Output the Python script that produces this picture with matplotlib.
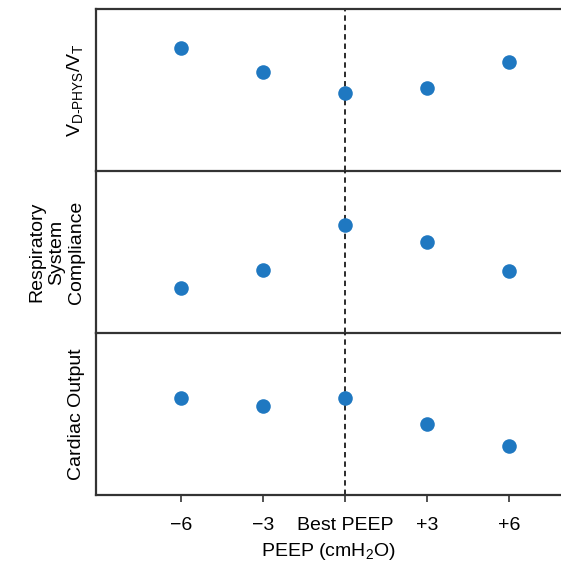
import matplotlib
matplotlib.use('Agg')
import matplotlib.pyplot as plt

plt.rcParams['font.family'] = ['Liberation Sans', 'DejaVu Sans']
plt.rcParams['mathtext.fontset'] = 'custom'
plt.rcParams['mathtext.rm'] = 'Liberation Sans'
plt.rcParams['mathtext.it'] = 'Liberation Sans'

# PEEP steps relative to best PEEP (cmH2O)
peep = [-6, -3, 0, 3, 6]
peep_labels = ['\u22126', '\u22123', 'Best PEEP', '+3', '+6']

# relative values per panel (arbitrary units, 0..1 of panel height)
vd_vt = [0.76, 0.61, 0.48, 0.51, 0.675]
compliance = [0.28, 0.39, 0.67, 0.56, 0.38]
cardiac_output = [0.60, 0.55, 0.60, 0.44, 0.30]

panels = [
    (vd_vt, r'V$_{\mathregular{D\text{-}PHYS}}$/V$_{\mathregular{T}}$'),
    (compliance, 'Respiratory\nSystem\nCompliance'),
    (cardiac_output, 'Cardiac Output'),
]

dot_color = '#1f78c1'
line_color = '#333333'
fs = 14

fig = plt.figure(figsize=(5.61, 5.66), dpi=100)
gs = fig.add_gridspec(3, 1, left=0.171, right=1.0, top=0.984, bottom=0.1254,
                      hspace=0)

axes = []
for i, (vals, label) in enumerate(panels):
    ax = fig.add_subplot(gs[i, 0], sharex=axes[0] if axes else None)
    axes.append(ax)
    ax.set_facecolor('none')
    ax.scatter(peep, vals, s=110, color=dot_color, zorder=3, linewidths=0)
    ax.axvline(0, color='#1a1a1a', ls=(0, (3, 2.2)), lw=1.3, zorder=2)
    ax.set_ylim(0, 1)
    ax.set_yticks([])
    ax.spines['right'].set_visible(False)
    ax.spines['top'].set_visible(i == 0)
    for side in ('left', 'bottom', 'top'):
        ax.spines[side].set_color(line_color)
        ax.spines[side].set_linewidth(1.6)
    ax.set_ylabel(label, fontsize=fs, linespacing=1.2, labelpad=8)
    if i < 2:
        ax.tick_params(axis='x', bottom=False, labelbottom=False)

ax = axes[-1]
ax.set_xlim(-9.1, 7.9)
ax.set_xticks(peep)
ax.set_xticklabels(peep_labels)
ax.tick_params(axis='x', length=5, width=1.2, color=line_color, labelsize=fs, pad=11)
ax.set_xlabel(r'PEEP (cmH$_{\mathregular{2}}$O)', fontsize=fs, labelpad=5)

fig.align_ylabels(axes)
fig.savefig('out.png', dpi=100)
